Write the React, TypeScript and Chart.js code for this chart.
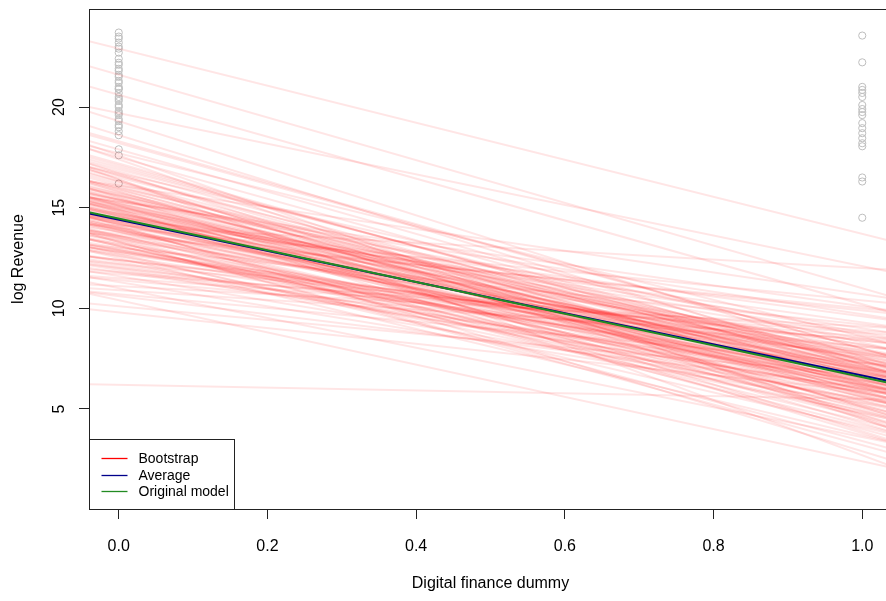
import React, { useEffect, useRef } from "react";
import { Chart, registerables } from "chart.js";

Chart.register(...registerables);

// ---- axis settings ----
const xTickValues = [0, 0.2, 0.4, 0.6, 0.8, 1.0];
const yTickValues = [5, 10, 15, 20];
const xMin = -0.04;
const xMax = 1.04;
const yMin = 0.03;
const yMax = 24.87;

// ---- observed data (log revenue) for dummy = 0 and dummy = 1 ----
const obsAt0 = [
  23.7, 23.5, 23.4, 23.2, 23.0, 22.9, 22.7, 22.4, 22.2, 22.1, 21.9, 21.8, 21.6, 21.5,
  21.3, 21.2, 21.0, 20.9, 20.9, 20.7, 20.5, 20.4, 20.3, 20.1, 20.0, 19.8, 19.7, 19.6,
  19.4, 19.3, 19.1, 19.0, 18.8, 18.6, 17.9, 17.6, 16.2,
];
const obsAt1 = [
  23.55, 22.22, 21.0, 20.85, 20.7, 20.5, 20.1, 19.9, 19.75, 19.6, 19.2, 18.95, 18.7,
  18.45, 18.2, 18.05, 16.5, 16.3, 14.5,
];

// ---- bootstrap fits: fitted value at x = 0 and at x = 1 (index-aligned) ----
const bootAt0 = [
  14.1, 15.6, 12.8, 16.3, 14.7, 12.2, 15.1, 17.0, 13.5, 14.3,
  15.9, 11.6, 14.5, 14.9, 13.1, 18.2, 13.9, 11.9, 15.4, 16.6,
  13.3, 14.2, 10.6, 15.0, 17.4, 13.8, 12.9, 15.8, 15.3, 12.6,
  19.3, 14.6, 13.6, 15.7, 11.1, 14.0, 16.4, 12.7, 14.9, 14.4,
  11.8, 17.7, 13.9, 15.2, 13.2, 16.1, 10.1, 14.7, 13.4, 15.5,
  12.4, 14.3, 16.7, 13.0, 14.8, 11.4, 14.6, 17.2, 13.7, 15.1,
  12.1, 16.0, 13.9, 18.6, 13.3, 15.6, 14.2, 11.7, 16.3, 14.5,
  12.8, 15.4, 10.9, 13.8, 16.5, 13.5, 15.0, 12.5, 16.8, 14.4,
  9.8, 15.7, 13.1, 15.9, 14.1, 12.3, 17.9, 15.2, 12.7, 14.7,
  16.2, 11.3, 14.9, 13.4, 17.5, 14.0, 12.0, 15.5, 14.3, 10.4,
  14.6, 15.3, 13.0, 17.1, 12.6, 13.9, 16.6, 13.6, 15.1, 11.0,
  14.4, 13.3, 16.0, 14.8, 12.4, 14.2, 18.3, 13.1, 15.6, 13.8,
  16.4, 12.0, 15.0, 6.2, 14.5, 13.6, 16.9, 15.4, 11.8, 14.1,
  16.1, 12.9, 14.0, 14.7, 11.5, 15.2, 13.2, 16.7, 14.3, 12.4,
  15.8, 10.7, 14.9, 12.8, 15.3, 14.0, 13.5, 17.6, 12.2, 14.6,
  22.9, 21.6, 20.6, 19.7, 14.2, 13.6, 15.1, 14.8, 12.9, 15.4,
];
const bootAt1 = [
  7.1, 6.2, 7.7, 5.1, 6.6, 8.4, 5.8, 7.2, 4.2, 7.5,
  6.3, 5.5, 9.6, 6.9, 4.8, 8.0, 6.5, 6.0, 8.8, 6.7,
  3.4, 7.3, 6.1, 7.0, 4.5, 8.2, 6.4, 5.7, 10.1, 6.8,
  7.6, 5.2, 7.1, 5.9, 9.1, 6.3, 2.7, 7.8, 5.6, 7.2,
  6.6, 8.6, 4.9, 7.4, 6.2, 10.7, 6.7, 5.4, 7.9, 3.9,
  7.0, 6.1, 8.3, 6.5, 4.7, 8.1, 5.8, 6.9, 9.9, 4.3,
  6.4, 7.7, 5.3, 7.2, 3.2, 7.5, 6.0, 8.9, 6.7, 5.0,
  7.3, 6.6, 8.5, 4.6, 7.1, 6.2, 8.0, 3.7, 6.8, 9.3,
  5.9, 7.6, 5.1, 6.3, 12.0, 5.5, 7.4, 6.9, 4.1, 8.7,
  6.5, 5.3, 7.8, 4.4, 7.2, 10.4, 6.0, 6.7, 8.2, 2.4,
  6.4, 5.6, 9.2, 7.0, 4.8, 7.5, 6.1, 10.0, 6.6, 3.6,
  7.9, 5.8, 7.1, 5.2, 8.4, 6.3, 8.0, 5.4, 7.3, 6.8,
  4.5, 7.7, 6.2, 5.5, 9.0, 4.9, 7.4, 5.9, 8.6, 2.9,
  6.5, 7.6, 4.0, 6.9, 8.8, 5.7, 7.0, 4.7, 6.4, 8.1,
  5.1, 7.3, 3.8, 6.7, 9.7, 6.0, 7.8, 4.6, 6.2, 8.5,
  13.7, 11.0, 10.2, 12.1, 6.8, 5.6, 7.0, 6.1, 5.8, 7.4,
];

// ---- average of bootstrap fits and original model: value at x = 0 and x = 1 ----
const averageFit = [14.4, 6.66];
const originalFit = [14.46, 6.58];

const legendLabels = ["Bootstrap", "Average", "Original model"];
const legendColors = ["#ff0000", "#00008b", "#228b22"];

const xTitle = "Digital finance dummy";
const yTitle = "log Revenue";

const FONT = '"Liberation Sans", Arial, sans-serif';

function fitLine(v0: number, v1: number) {
  const slope = v1 - v0;
  return [
    { x: xMin, y: v0 + slope * xMin },
    { x: xMax, y: v0 + slope * xMax },
  ];
}

const boxAndLegend = {
  id: "boxAndLegend",
  afterDraw(chart: any) {
    const { ctx, chartArea } = chart;
    const { left, top, right, bottom } = chartArea;
    ctx.save();
    ctx.strokeStyle = "#222";
    ctx.lineWidth = 1;
    ctx.strokeRect(Math.round(left) + 0.5, Math.round(top) + 0.5, Math.round(right - left), Math.round(bottom - top));

    // legend (bottom-left inside plot)
    const w = 145;
    const h = 70;
    const x0 = Math.round(left) + 0.5;
    const y0 = Math.round(bottom) - h + 0.5;
    ctx.fillStyle = "#ffffff";
    ctx.fillRect(x0, y0, w, h);
    ctx.strokeStyle = "#222";
    ctx.strokeRect(x0, y0, w, h);
    ctx.font = "14px " + FONT;
    ctx.textBaseline = "middle";
    ctx.textAlign = "left";
    legendLabels.forEach((label, i) => {
      const yy = y0 + 18.5 + i * 16.7;
      ctx.strokeStyle = legendColors[i];
      ctx.lineWidth = 1.3;
      ctx.beginPath();
      ctx.moveTo(x0 + 12, Math.round(yy) + 0.5);
      ctx.lineTo(x0 + 38, Math.round(yy) + 0.5);
      ctx.stroke();
      ctx.fillStyle = "#000";
      ctx.fillText(label, x0 + 49, yy + 1);
    });
    ctx.restore();
  },
};

export default function App() {
  const canvasRef = useRef<HTMLCanvasElement>(null);

  useEffect(() => {
    if (!canvasRef.current) return;

    const pointData = [
      ...obsAt0.map((y) => ({ x: 0, y })),
      ...obsAt1.map((y) => ({ x: 1, y })),
    ];

    const bootDatasets = bootAt0.map((v0, i) => ({
      type: "line" as const,
      label: "Bootstrap " + (i + 1),
      data: fitLine(v0, bootAt1[i]),
      borderColor: "rgba(255,0,0,0.1)",
      borderWidth: 2,
      pointRadius: 0,
      showLine: true,
      fill: false,
      order: 2,
    }));

    const chart = new Chart(canvasRef.current, {
      type: "scatter",
      data: {
        datasets: [
          {
            label: "Observed",
            data: pointData,
            pointRadius: 3.6,
            pointStyle: "circle",
            borderColor: "rgb(190,190,190)",
            backgroundColor: "rgba(0,0,0,0)",
            borderWidth: 1,
            order: 3,
          } as any,
          ...bootDatasets,
          {
            type: "line",
            label: "Average",
            data: fitLine(averageFit[0], averageFit[1]),
            borderColor: legendColors[1],
            borderWidth: 2,
            pointRadius: 0,
            showLine: true,
            order: 1,
          },
          {
            type: "line",
            label: "Original model",
            data: fitLine(originalFit[0], originalFit[1]),
            borderColor: legendColors[2],
            borderWidth: 2,
            pointRadius: 0,
            showLine: true,
            order: 0,
          },
        ],
      },
      options: {
        animation: false,
        responsive: false,
        maintainAspectRatio: false,
        events: [],
        layout: { autoPadding: false, padding: { top: 9, left: 0, right: 0, bottom: 0 } },
        plugins: {
          legend: { display: false },
          tooltip: { enabled: false },
        },
        scales: {
          x: {
            type: "linear",
            min: xMin,
            max: xMax,
            afterBuildTicks: (s: any) => {
              s.ticks = xTickValues.map((v) => ({ value: v }));
            },
            afterFit: (s: any) => {
              s.height = 92;
              s.paddingLeft = 0;
              s.paddingRight = 0;
            },
            ticks: {
              autoSkip: false,
              maxRotation: 0,
              minRotation: 0,
              padding: 18,
              color: "#000",
              font: { family: FONT, size: 16 },
              callback: (v: any) => Number(v).toFixed(1),
            },
            grid: {
              display: true,
              drawOnChartArea: false,
              drawTicks: true,
              tickLength: 10,
              tickColor: "#222",
            },
            border: { display: false },
            title: {
              display: true,
              text: xTitle,
              color: "#000",
              font: { family: FONT, size: 16 },
              padding: { top: 0, bottom: 8 },
            },
          },
          y: {
            type: "linear",
            min: yMin,
            max: yMax,
            afterBuildTicks: (s: any) => {
              s.ticks = yTickValues.map((v) => ({ value: v }));
            },
            afterFit: (s: any) => {
              s.width = 89;
              s.paddingTop = 0;
              s.paddingBottom = 0;
            },
            ticks: {
              autoSkip: false,
              minRotation: 90,
              maxRotation: 90,
              crossAlign: "center",
              padding: 11,
              color: "#000",
              font: { family: FONT, size: 16 },
              callback: (v: any) => String(v),
            },
            grid: {
              display: true,
              drawOnChartArea: false,
              drawTicks: true,
              tickLength: 10,
              tickColor: "#222",
            },
            border: { display: false },
            title: {
              display: true,
              text: yTitle,
              color: "#000",
              font: { family: FONT, size: 16 },
              padding: { top: 9, bottom: 0 },
            },
          },
        },
      },
      plugins: [boxAndLegend],
    } as any);

    return () => chart.destroy();
  }, []);

  return (
    <div
      style={{
        position: "fixed",
        left: 0,
        top: 0,
        width: 886,
        height: 601,
        overflow: "hidden",
        background: "#ffffff",
      }}
    >
      <canvas ref={canvasRef} width={892} height={601} style={{ display: "block" }} />
    </div>
  );
}
